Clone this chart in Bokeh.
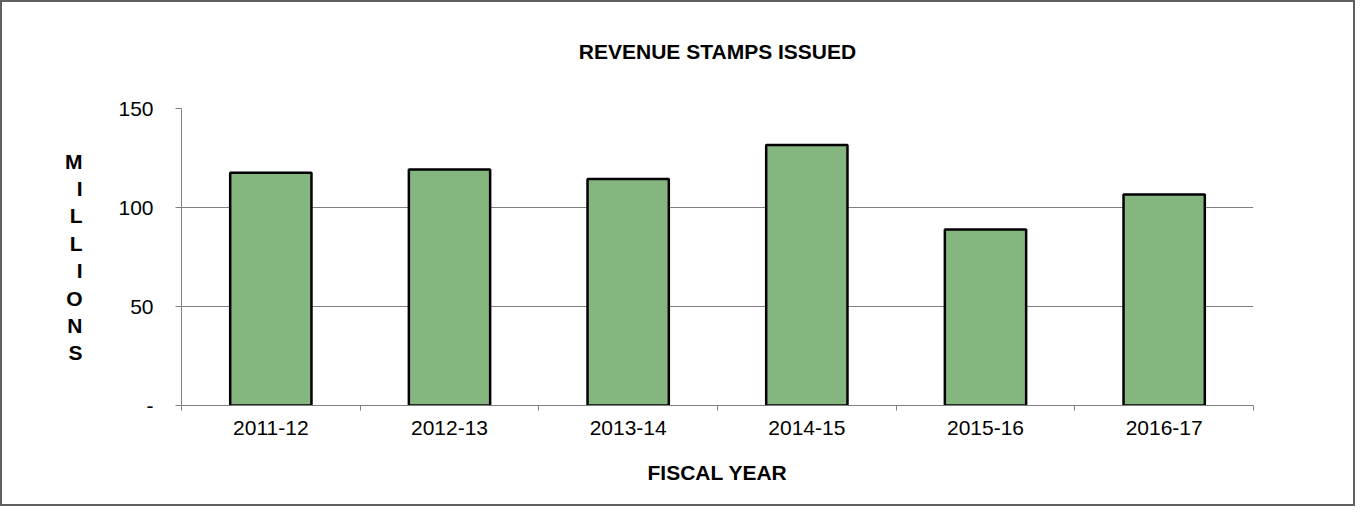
from bokeh.plotting import figure
from bokeh.models import Range1d, FixedTicker, ColumnDataSource
from bokeh.embed import file_html
from bokeh.resources import INLINE

years = ["2011-12", "2012-13", "2013-14", "2014-15", "2015-16", "2016-17"]
stamps = [117.6, 119.2, 114.4, 131.6, 88.9, 106.6]
y_ticks = [0, 50, 100, 150]
y_tick_labels = ["-", "50", "100", "150"]

FONT = "Liberation Sans"
GRAY = "#808080"

centers = [i + 0.5 for i in range(len(years))]
src = ColumnDataSource(dict(x=centers, top=stamps, year=years))

p = figure(width=1355, height=506, output_backend="svg", toolbar_location=None,
           x_range=Range1d(0, len(years)), y_range=Range1d(0, 150),
           min_border_left=179, min_border_right=104, min_border_top=106, min_border_bottom=103,
           title="REVENUE STAMPS ISSUED\n ")
p.styles = {"border": "2px solid #606060"}
p.outline_line_color = None
p.background_fill_color = "white"

p.title.align = "center"
p.title.text_font = FONT
p.title.text_font_size = "21px"
p.title.text_font_style = "bold"
p.title.text_color = "black"
p.title.standoff = 45

p.vbar(x="x", top="top", width=0.455, bottom=0, source=src,
       fill_color="#86B67F", line_color="black", line_width=2.5)

# x axis
xa = p.xaxis[0]
xa.ticker = FixedTicker(ticks=centers, minor_ticks=list(range(len(years) + 1)))
xa.major_label_overrides = {c: y for c, y in zip(centers, years)}
xa.major_tick_line_color = None
xa.minor_tick_line_color = GRAY
xa.minor_tick_out = 5
xa.minor_tick_in = 0
xa.axis_line_color = GRAY
xa.major_label_text_font = FONT
xa.major_label_text_font_size = "21px"
xa.major_label_text_color = "black"
xa.major_label_standoff = 9
xa.axis_label = "FISCAL YEAR"
xa.axis_label_text_font = FONT
xa.axis_label_text_font_size = "21px"
xa.axis_label_text_font_style = "bold"
xa.axis_label_text_color = "black"
xa.axis_label_standoff = 23

# y axis
ya = p.yaxis[0]
ya.ticker = FixedTicker(ticks=y_ticks)
ya.major_label_overrides = {t: l for t, l in zip(y_ticks, y_tick_labels)}
ya.major_tick_line_color = GRAY
ya.major_tick_out = 6
ya.major_tick_in = 0
ya.minor_tick_line_color = None
ya.axis_line_color = GRAY
ya.major_label_text_font = FONT
ya.major_label_text_font_size = "21px"
ya.major_label_text_color = "black"
ya.major_label_standoff = 22
ya.axis_label = "\n".join("MILLIONS")
ya.axis_label_orientation = "horizontal"
ya.axis_label_text_font = FONT
ya.axis_label_text_font_size = "21px"
ya.axis_label_text_font_style = "bold"
ya.axis_label_text_color = "black"
ya.axis_label_text_line_height = 1.19
ya.axis_label_text_align = "center"
ya.axis_label_standoff = 33

p.xgrid.grid_line_color = None
p.ygrid.grid_line_color = GRAY
p.ygrid.grid_line_width = 1

open("out.html", "w").write(file_html(p, INLINE))
